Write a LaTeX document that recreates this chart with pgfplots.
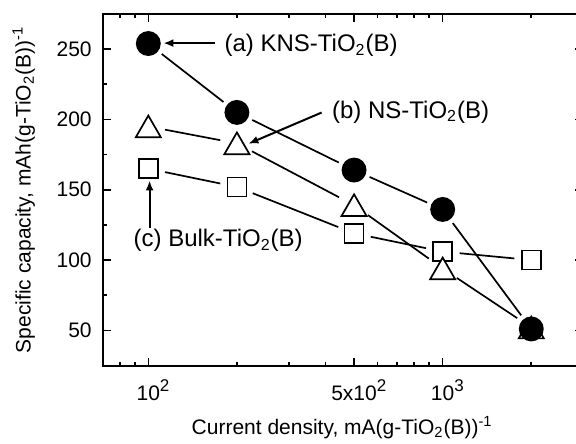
\documentclass[border=0pt]{standalone}
\usepackage{fontspec}
\setmainfont{Liberation Sans}
\usepackage{pgfplots}
\pgfplotsset{compat=1.18}
\usetikzlibrary{arrows.meta}

\newcommand{\sps}[1]{\rlap{\raisebox{0.42em}{\fontsize{8.5}{8.5}\selectfont #1}}}

\pgfplotsset{
  seg/.style={black, line width=0.85pt, shorten <=8.5pt, shorten >=8.5pt, forget plot, mark=none},
}

\begin{document}
\begin{tikzpicture}
\begin{axis}[
  at={(0,0)}, anchor=south west,
  scale only axis, width=240.2pt, height=175.75pt,
  xmode=log, xmin=70, xmax=3000, ymin=25, ymax=275,
  axis line style={line width=1pt},
  every tick/.style={black, line width=0.8pt},
  major tick length=4pt, minor tick length=2pt,
  tick align=inside,
  xtick={100,500,1000},
  xticklabels={10\sps{2}, 5x10\sps{2}, 10\sps{3}},
  minor xtick={80,90,200,300,400,600,700,800,900,2000},
  ytick={50,100,150,200,250},
  minor ytick={75,125,175,225},
  xticklabel pos=lower, yticklabel pos=left,
  tick label style={font=\fontsize{10.5}{12}\selectfont},
  xticklabel style={anchor=base, yshift=-17.25pt},
  yticklabel style={xshift=-2pt},
  /pgf/number format/assume math mode=true,
  xlabel={Current density, mA(g-TiO\textsubscript{2}(B))\textsuperscript{-1}},
  ylabel={Specific capacity, mAh(g-TiO\textsubscript{2}(B))\textsuperscript{-1}},
  label style={font=\fontsize{10.5}{12}\selectfont},
  xlabel style={at={(axis description cs:0.4985,0)}, anchor=base, yshift=-34.4pt},
  ylabel style={at={(axis description cs:-0.1499,0.5)}, anchor=base},
  clip=false,
]
% connecting segments (with gaps at the symbols)
\addplot[seg] coordinates {(100,254) (200,205)};
\addplot[seg] coordinates {(200,205) (500,164)};
\addplot[seg] coordinates {(500,164) (1000,136)};
\addplot[seg] coordinates {(1000,136) (2000,51)};

\addplot[seg] coordinates {(100,195) (200,183)};
\addplot[seg] coordinates {(200,183) (500,139)};
\addplot[seg] coordinates {(500,139) (1000,94)};
\addplot[seg] coordinates {(1000,94) (2000,52)};

\addplot[seg] coordinates {(100,165) (200,152)};
\addplot[seg] coordinates {(200,152) (500,119)};
\addplot[seg] coordinates {(500,119) (1000,106)};
\addplot[seg] coordinates {(1000,106) (2000,100)};

% symbols
\addplot[only marks, mark=square*, mark size=4.75pt,
  mark options={fill=white, draw=black, line width=0.85pt}]
  coordinates {(100,165) (200,152) (500,119) (1000,106) (2000,100)};
\addplot[only marks, mark=triangle*, mark size=7.25pt,
  mark options={fill=white, draw=black, line width=0.85pt, yshift=-1.8pt}]
  coordinates {(100,195) (200,183) (500,139) (1000,94) (2000,52)};
\addplot[only marks, mark=*, mark size=5.8pt,
  mark options={fill=black, draw=black, line width=0.85pt}]
  coordinates {(100,254) (200,205) (500,164) (1000,136) (2000,51)};

% annotations
\draw[line width=1pt, -{Latex[length=5pt, width=4pt]}] (axis cs:168.5,254.3) -- (axis cs:112.5,254.3);
\draw[line width=1pt, -{Latex[length=5pt, width=4pt]}] (axis cs:388,204.9) -- (axis cs:218.7,182.7);
\draw[line width=1pt, -{Latex[length=5pt, width=4pt]}] (axis cs:101,122.8) -- (axis cs:101,156.6);
\node[anchor=base west, inner sep=0pt, font=\fontsize{12}{14}\selectfont] at (axis cs:181.1,248.3) {(a) KNS-TiO\textsubscript{2}(B)};
\node[anchor=base west, inner sep=0pt, font=\fontsize{12}{14}\selectfont] at (axis cs:419.8,201) {(b) NS-TiO\textsubscript{2}(B)};
\node[anchor=base west, inner sep=0pt, font=\fontsize{12}{14}\selectfont] at (axis cs:88.9,109.7) {(c) Bulk-TiO\textsubscript{2}(B)};
\end{axis}
\pgfresetboundingbox
\useasboundingbox (-51.35pt,-38.75pt) rectangle (236.65pt,182.75pt);
\end{tikzpicture}
\end{document}
